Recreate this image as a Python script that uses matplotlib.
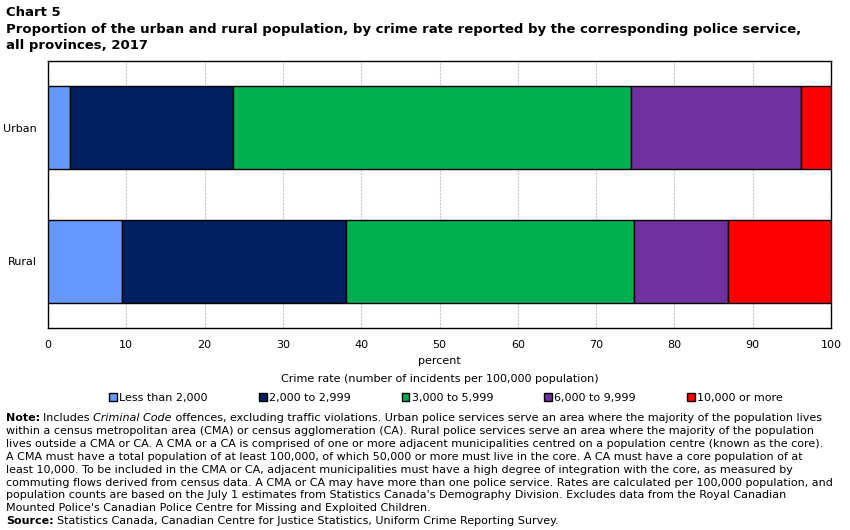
import matplotlib
matplotlib.use('Agg')
import numpy as np
import matplotlib.pyplot as plt

plt.rcParams['font.family'] = ['DejaVu Sans']

categories = ['Urban', 'Rural']
series_labels = ['Less than 2,000', '2,000 to 2,999', '3,000 to 5,999',
                 '6,000 to 9,999', '10,000 or more']
# percent of population, per category
values = {
    'Less than 2,000': [2.8, 9.5],
    '2,000 to 2,999': [20.8, 28.5],
    '3,000 to 5,999': [50.9, 36.8],
    '6,000 to 9,999': [21.7, 12.0],
    '10,000 or more': [3.8, 13.2],
}
colors = ['#6699ff', '#002060', '#00b050', '#7030a0', '#ff0000']
xticks = np.arange(0, 101, 10)

title_lines = [
    'Chart 5',
    'Proportion of the urban and rural population, by crime rate reported by the corresponding police service,',
    'all provinces, 2017',
]
note_lines = [
    'within a census metropolitan area (CMA) or census agglomeration (CA). Rural police services serve an area where the majority of the population',
    'lives outside a CMA or CA. A CMA or a CA is comprised of one or more adjacent municipalities centred on a population centre (known as the core).',
    'A CMA must have a total population of at least 100,000, of which 50,000 or more must live in the core. A CA must have a core population of at',
    'least 10,000. To be included in the CMA or CA, adjacent municipalities must have a high degree of integration with the core, as measured by',
    'commuting flows derived from census data. A CMA or CA may have more than one police service. Rates are calculated per 100,000 population, and',
    "population counts are based on the July 1 estimates from Statistics Canada's Demography Division. Excludes data from the Royal Canadian",
    "Mounted Police's Canadian Police Centre for Missing and Exploited Children.",
]

fig = plt.figure(figsize=(8.5, 5.3), dpi=100)
ax = fig.add_axes([48 / 850, 1 - 328 / 530, (831 - 48) / 850, (328 - 61) / 530])

y = np.arange(len(categories))
left = np.zeros(len(categories))
handles = []
for label, color in zip(series_labels, colors):
    vals = np.array(values[label])
    h = ax.barh(y, vals, left=left, height=0.62, color=color,
                edgecolor='black', linewidth=1, label=label, zorder=3)
    handles.append(h)
    left += vals

ax.set_xlim(0, 100)
ax.set_ylim(len(categories) - 0.5, -0.5)
ax.set_yticks(y)
ax.set_yticklabels(categories, fontsize=8)
ax.set_xticks(xticks)
ax.set_xticklabels([str(t) for t in xticks], fontsize=8)
ax.tick_params(axis='x', length=0, pad=9)
ax.tick_params(axis='y', length=0, pad=8)
ax.xaxis.grid(True, color='#c8c8c8', linestyle=(0, (2, 1)), linewidth=0.8, zorder=0)
for s in ax.spines.values():
    s.set_color('black')
    s.set_linewidth(1)

ax.set_xlabel('percent', fontsize=8, labelpad=4)

fig.text(440 / 850, 1 - 379 / 530, 'Crime rate (number of incidents per 100,000 population)',
         ha='center', va='center', fontsize=8)

leg = fig.legend(handles=handles, labels=series_labels, ncol=5, loc='center',
                 bbox_to_anchor=(446 / 850, 1 - 398 / 530), frameon=False, fontsize=8,
                 handlelength=0.7, handleheight=0.7, handletextpad=0.2, columnspacing=4.6)

for i, yy in enumerate([12, 30, 46]):
    fig.text(6 / 850, 1 - yy / 530, title_lines[i], fontsize=9.5, fontweight='bold', va='center')

fs = 8.0
line_h = 12.9
y0 = 418
t = fig.text(6 / 850, 1 - y0 / 530, 'Note:', fontsize=fs, fontweight='bold', va='center')
fig.canvas.draw()
x1 = t.get_window_extent().x1 / 850
t2 = fig.text(x1 + 3 / 850, 1 - y0 / 530, 'Includes ', fontsize=fs, va='center')
fig.canvas.draw()
x2 = t2.get_window_extent().x1 / 850
t3 = fig.text(x2, 1 - y0 / 530, 'Criminal Code', fontsize=fs, style='italic', va='center')
fig.canvas.draw()
x3 = t3.get_window_extent().x1 / 850
fig.text(x3, 1 - y0 / 530,
         ' offences, excluding traffic violations. Urban police services serve an area where the majority of the population lives',
         fontsize=fs, va='center')
for i, line in enumerate(note_lines):
    fig.text(6 / 850, 1 - (y0 + line_h * (i + 1)) / 530, line, fontsize=fs, va='center')
ys = y0 + line_h * (len(note_lines) + 1)
s = fig.text(6 / 850, 1 - ys / 530, 'Source:', fontsize=fs, fontweight='bold', va='center')
fig.canvas.draw()
xs = s.get_window_extent().x1 / 850
fig.text(xs + 3 / 850, 1 - ys / 530,
         'Statistics Canada, Canadian Centre for Justice Statistics, Uniform Crime Reporting Survey.',
         fontsize=fs, va='center')

fig.savefig('out.png', dpi=100)
